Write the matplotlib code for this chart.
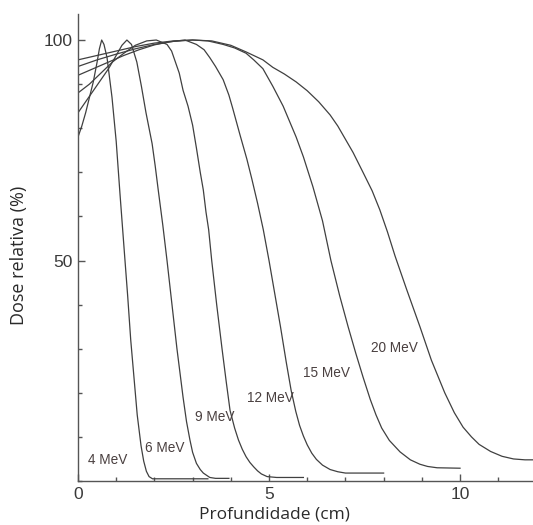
import numpy as np
import matplotlib
matplotlib.use("Agg")
import matplotlib.pyplot as plt
from matplotlib.ticker import MultipleLocator

# depth (cm) / relative dose (%), one pair per beam energy
x_4 = [0, 0.1, 0.2, 0.3, 0.4, 0.5, 0.56, 0.62, 0.68, 0.76, 0.89, 1.0, 1.1, 1.23, 1.3, 1.38, 1.45, 1.55, 1.65, 1.72, 1.79, 1.86, 1.95, 2.5, 3.4]
y_4 = [78, 80.5, 83.5, 87, 90.5, 95, 98, 100, 99, 96, 87, 77, 65, 50, 42, 32, 25, 15, 8, 4.5, 2.2, 1.0, 0.5, 0.5, 0.5]

x_6 = [0, 0.2, 0.4, 0.6, 0.8, 1.0, 1.15, 1.28, 1.4, 1.54, 1.66, 1.78, 1.94, 2.02, 2.1, 2.22, 2.33, 2.46, 2.59, 2.67, 2.75, 2.84, 2.93, 3.0, 3.1, 3.2, 3.28, 3.45, 3.6, 3.95]
y_6 = [83.5, 86, 88.5, 91, 93.5, 96.5, 98.8, 100, 99, 95, 89.5, 83.5, 76.5, 71.5, 66, 58, 50, 40, 30, 24.5, 19, 13.5, 9.3, 6.5, 4, 2.6, 1.8, 0.8, 0.6, 0.6]

x_9 = [0, 0.3, 0.6, 0.9, 1.2, 1.5, 1.8, 2.05, 2.33, 2.45, 2.55, 2.65, 2.75, 2.88, 3.0, 3.1, 3.2, 3.28, 3.35, 3.42, 3.5, 3.63, 3.77, 3.88, 3.98, 4.1, 4.2, 4.3, 4.4, 4.5, 4.6, 4.7, 4.8, 4.95, 5.2, 5.9]
y_9 = [88, 90, 92.5, 95, 97, 98.8, 99.8, 100, 99, 97.5, 95, 92.5, 88.6, 85, 80.7, 75.5, 70, 66, 61, 57, 50, 40, 30, 22.5, 16, 12, 9.3, 7.2, 5.5, 4.2, 3.2, 2.3, 1.6, 1, 0.8, 0.8]

x_12 = [0, 0.4, 0.8, 1.2, 1.6, 2.0, 2.4, 2.8, 3.1, 3.3, 3.45, 3.6, 3.8, 3.95, 4.05, 4.24, 4.42, 4.55, 4.7, 4.85, 5.0, 5.15, 5.3, 5.45, 5.58, 5.7, 5.8, 5.9, 6.0, 6.12, 6.24, 6.4, 6.6, 6.8, 7.0, 8.0]
y_12 = [92, 93.5, 95, 96.5, 97.8, 98.9, 99.6, 100, 99, 97.8, 96, 94, 91, 87.5, 84.5, 78.5, 73, 68.5, 63, 57, 50, 42.5, 35, 27, 20.5, 15.8, 12.6, 10.2, 8.2, 6.3, 4.9, 3.6, 2.6, 2.1, 1.8, 1.8]

x_15 = [0, 0.5, 1.0, 1.5, 2.0, 2.5, 3.0, 3.4, 3.8, 4.1, 4.4, 4.6, 4.84, 5.1, 5.37, 5.71, 5.9, 6.15, 6.4, 6.62, 6.85, 7.07, 7.27, 7.46, 7.65, 7.8, 7.95, 8.15, 8.43, 8.7, 8.95, 9.15, 9.4, 10.0]
y_15 = [94, 95.5, 96.8, 98, 99, 99.7, 100, 99.8, 99, 98.2, 97, 95.5, 93.5, 89.5, 85, 78, 73.5, 66.7, 59, 50, 42, 35, 29, 23.6, 18.5, 15, 12, 9.2, 6.6, 4.8, 3.8, 3.3, 3.0, 2.9]

x_20 = [0, 0.5, 1.0, 1.5, 2.0, 2.5, 3.0, 3.5, 4.0, 4.4, 4.84, 5.1, 5.4, 5.71, 6.0, 6.3, 6.6, 6.8, 7.0, 7.2, 7.46, 7.7, 7.9, 8.1, 8.3, 8.6, 8.95, 9.25, 9.6, 9.85, 10.08, 10.3, 10.5, 10.8, 11.1, 11.4, 11.7, 12.0]
y_20 = [95.5, 96.5, 97.5, 98.5, 99.3, 99.8, 100, 99.8, 98.8, 97.3, 95.5, 93.8, 92.3, 90.5, 88.5, 86, 83, 80.5, 77.5, 74.5, 70, 65.8, 61.5, 56.5, 51, 43.5, 35, 27.4, 20, 15.5, 12.2, 10, 8.3, 6.7, 5.6, 5.0, 4.8, 4.8]

curves = [(x_4, y_4), (x_6, y_6), (x_9, y_9), (x_12, y_12), (x_15, y_15), (x_20, y_20)]

labels = ["4 MeV", "6 MeV", "9 MeV", "12 MeV", "15 MeV", "20 MeV"]
label_x = [0.77, 2.27, 3.58, 5.03, 6.5, 8.29]
label_y = [4.8, 7.5, 14.5, 18.8, 24.5, 30.2]

fig = plt.figure(figsize=(5.33, 5.25), dpi=100)
ax = fig.add_axes([78 / 533, 44 / 525, 455 / 533, 467 / 525])

for xs, ys in curves:
    ax.plot(xs, ys, color="#404040", lw=0.9)

for t, lx, ly in zip(labels, label_x, label_y):
    ax.text(lx, ly, t, ha="center", va="center", fontsize=9.8,
            family="Liberation Sans", color="#4a4040")

ax.set_xlim(0, 11.91)
ax.set_ylim(0, 105.9)
ax.spines["top"].set_visible(False)
ax.spines["right"].set_visible(False)
for s in ["left", "bottom"]:
    ax.spines[s].set_color("#555555")
    ax.spines[s].set_linewidth(1.0)

ax.xaxis.set_major_locator(MultipleLocator(5))
ax.xaxis.set_minor_locator(MultipleLocator(1))
ax.set_yticks([50, 100])
ax.yaxis.set_minor_locator(MultipleLocator(10))
ax.tick_params(which="both", direction="in", colors="#555555", labelcolor="#3a3a3a",
               labelsize=12.5, pad=4)
ax.tick_params(which="major", length=5, width=1)
ax.tick_params(which="minor", length=3, width=1)
for lab in ax.get_xticklabels() + ax.get_yticklabels():
    lab.set_family("Liberation Sans")

ax.set_xlabel("Profundidade (cm)", fontsize=12.5, family="Open Sans", color="#2a2a2a", labelpad=4)
ax.xaxis.set_label_coords(0.431, -0.055)
ax.set_ylabel("Dose relativa (%)", fontsize=13, family="Open Sans", color="#2a2a2a", labelpad=10)
ax.yaxis.set_label_coords(-0.11, 0.484)

fig.savefig("out.png", dpi=100)
